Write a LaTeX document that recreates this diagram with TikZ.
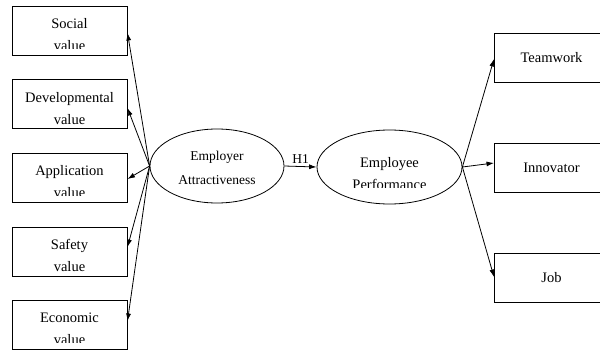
\documentclass[tikz,border=0pt]{standalone}
\usepackage{fontspec}
\setmainfont{Liberation Serif}
\usetikzlibrary{arrows.meta,shapes.geometric}
\begin{document}
\begin{tikzpicture}[x=1pt,y=-1pt,
  box/.style={draw,line width=0.8pt,minimum width=115pt,minimum height=49pt,inner sep=0pt},
  oval/.style={draw,line width=0.8pt,ellipse,inner sep=0pt},
  lbl/.style={anchor=base,align=center,inner sep=0pt,font=\fontsize{14.5}{22}\selectfont},
  slbl/.style={anchor=base,align=center,inner sep=0pt,font=\fontsize{13.5}{24}\selectfont},
  arr/.style={line width=0.8pt,-{Latex[length=7.5pt,width=5pt]}}]
\useasboundingbox (0,0) rectangle (600,351);
% left boxes
\node[box] (social) at (69.5,30.5) {};
\node[box] (devel) at (69.5,103.5) {};
\node[box] (appl) at (69.5,177.5) {};
\node[box] (safety) at (69.5,251.5) {};
\node[box] (econ) at (69.5,324.5) {};
\begin{scope}\clip (12,6) rectangle (127,48);
\node[lbl] (socialt) at (69.5,50) {Social\\value};\end{scope}
\node[lbl] (develt) at (69.5,124) {Developmental\\value};
\begin{scope}\clip (12,153) rectangle (127,195.5);
\node[lbl] (applt) at (69.5,197.5) {Application\\value};\end{scope}
\node[lbl] (safetyt) at (69.5,271) {Safety\\value};
\begin{scope}\clip (12,300) rectangle (127,342.5);
\node[lbl] (econt) at (69.5,344.5) {Economic\\value};\end{scope}
% right boxes
\node[box] (team) at (551.5,57.5) {};
\node[box] (innov) at (551.5,167.5) {};
\node[box] (job) at (551.5,277.5) {};
\node[lbl] (teamt) at (551.5,62.5) {Teamwork};
\node[lbl] (innovt) at (551.5,172.5) {Innovator};
\node[lbl] (jobt) at (551.5,282.5) {Job};
% ellipses
\node[oval,minimum width=134pt,minimum height=74pt] (ea) at (217,166) {};
\node[oval,minimum width=145pt,minimum height=74pt] (ep) at (389.5,167) {};
\node[slbl] (eat) at (217,184) {Employer\\Attractiveness};
\begin{scope}\clip (317,130) rectangle (462,187);
\node[lbl] (ept) at (389.5,189) {Employee\\Performance};\end{scope}
% arrows
\coordinate (tS) at (127.5,33);
\coordinate (tD) at (127.5,108);
\coordinate (tA) at (127.5,179);
\coordinate (tF) at (127.5,247);
\coordinate (tE) at (127.5,321);
\foreach \t in {tS,tD,tA,tF,tE} \draw[arr] (ea.west) -- (\t);
\draw[arr] (ea.east) -- (ep.west) node[midway,above=3pt,inner sep=0pt,font=\fontsize{13.5}{16}\selectfont] (h1) {H1};
\coordinate (tT) at (494,59);
\coordinate (tI) at (494,163);
\coordinate (tJ) at (494,277);
\foreach \t in {tT,tI,tJ} \draw[arr] (ep.east) -- (\t);
\end{tikzpicture}
\end{document}
